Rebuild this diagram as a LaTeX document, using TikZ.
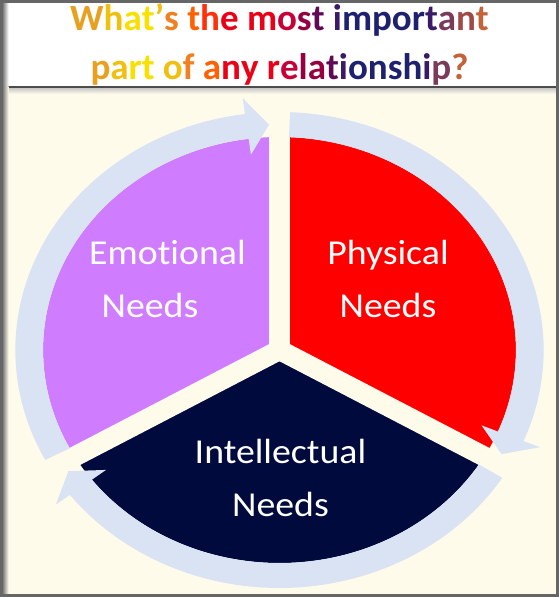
\documentclass[tikz,border=0pt]{standalone}
\usepackage{fontspec}
\setmainfont{Carlito}[Ligatures=NoCommon]
\newfontfamily\segfont{Carlito}[FakeStretch=1.08, Ligatures=NoCommon]
\usetikzlibrary{calc}
\definecolor{colBack}{RGB}{255,251,235}
\definecolor{colEmo}{RGB}{208,124,255}
\definecolor{colPhys}{RGB}{255,0,0}
\definecolor{colIntel}{RGB}{0,10,60}
\definecolor{colRing}{RGB}{218,227,243}
% title gradient stops
\definecolor{tAmber}{RGB}{232,160,32}
\definecolor{tGold}{RGB}{240,192,16}
\definecolor{tYellow}{RGB}{248,224,0}
\definecolor{tOrange}{RGB}{240,128,32}
\definecolor{tRedOr}{RGB}{255,96,0}
\definecolor{tScarlet}{RGB}{255,48,10}
\definecolor{tRed}{RGB}{236,0,24}
\definecolor{tCrimA}{RGB}{200,0,56}
\definecolor{tCrimB}{RGB}{150,0,64}
\definecolor{tPlum}{RGB}{96,10,85}
\definecolor{tIndigo}{RGB}{58,26,104}
\definecolor{tNavy}{RGB}{30,32,112}
\definecolor{tMauve}{RGB}{122,58,90}
\definecolor{tBrown}{RGB}{160,74,72}
\definecolor{tRust}{RGB}{196,98,58}
\newcommand{\gch}[2]{\textcolor{#1}{#2}}
\tikzset{
  % pie pieces and gaps
  piece/.style={fill=#1, draw=none},
  gapLine/.style={draw=colBack, line width=20pt},
  % circular arrows
  ringArr/.style={fill=colRing, draw=none},
  % texts (base = baseline of the last line)
  segLabel/.style={text=white, font=\segfont\fontsize{35}{53}\selectfont,
                   align=center, anchor=base, inner sep=0pt},
  titleText/.style={font=\bfseries\fontsize{37}{49}\selectfont,
                    align=center, anchor=base, inner sep=0pt},
}

\begin{document}
\begin{tikzpicture}[x=1pt, y=1pt]
\useasboundingbox (-279.5,-247) rectangle (279.5,350);

% ═══════════════════════════════════════════════════════════════════
%  BACKGROUND – title band and cream panel
% ═══════════════════════════════════════════════════════════════════
\fill[colBack] (-279.5,-247) rectangle (279.5,263);
\fill[white]   (-279.5,263)  rectangle (279.5,350);
\shade[top color=black!25, bottom color=colBack]
  (-279.5,256) rectangle (279.5,263);
\draw[black!70, line width=1.5pt] (-279.5,263) -- (279.5,263);

% ═══════════════════════════════════════════════════════════════════
%  SEGMENTED CYCLE (stretched sideways)
% ═══════════════════════════════════════════════════════════════════
\begin{scope}[xscale=1.11]
  % pieces
  \fill[piece=colEmo]   (0,0) -- (90:213)  arc[start angle=90,  end angle=210, radius=213] -- cycle;
  \fill[piece=colPhys]  (0,0) -- (-30:213) arc[start angle=-30, end angle=90,  radius=213] -- cycle;
  \fill[piece=colIntel] (0,0) -- (210:213) arc[start angle=210, end angle=330, radius=213] -- cycle;

  % gaps between the pieces
  \draw[gapLine] (0,0) -- (90:245);
  \draw[gapLine] (0,0) -- (210:245);
  \draw[gapLine] (0,0) -- (330:245);

  % arrow 1 – left side, up to the top
  \fill[ringArr] (207.5:238) arc[start angle=207.5, end angle=97.5, radius=238]
    -- (97.5:254) -- (92.4:225.5) -- (97.5:197) -- (97.5:213)
    arc[start angle=97.5, end angle=207.5, radius=213] -- cycle;

  % arrow 2 – top, down the right side
  \fill[ringArr] (87.7:238) arc[start angle=87.7, end angle=-22.5, radius=238]
    -- (-22.5:254) -- (-27.5:225.5) -- (-22.5:197) -- (-22.5:213)
    arc[start angle=-22.5, end angle=87.7, radius=213] -- cycle;

  % arrow 3 – along the bottom, to the lower left
  \fill[ringArr] (-32.5:238) arc[start angle=-32.5, end angle=-142.5, radius=238]
    -- (-142.5:254) -- (-147.5:225.5) -- (-142.5:197) -- (-142.5:213)
    arc[start angle=-142.5, end angle=-32.5, radius=213] -- cycle;
\end{scope}

% ═══════════════════════════════════════════════════════════════════
%  LABELS
% ═══════════════════════════════════════════════════════════════════
\node[segLabel] (emo)   at (-112,32)     {Emotional\\\hspace*{-35pt}Needs};
\node[segLabel] (phys)  at (108.5,32)    {Physical\\Needs};
\node[segLabel] (intel) at (1,-166.7)    {Intellectual\\Needs};

% ═══════════════════════════════════════════════════════════════════
%  TITLE
% ═══════════════════════════════════════════════════════════════════
\node[titleText] (title) at (0,270.7) {%
  \gch{tAmber}{W}\gch{tGold}{h}\gch{tYellow}{a}\gch{tYellow}{t}\gch{tGold}{’}\gch{tOrange}{s}
  \gch{tRedOr}{t}\gch{tScarlet}{h}\gch{tRed}{e}
  \gch{tRed}{m}\gch{tCrimA}{o}\gch{tCrimB}{s}\gch{tPlum}{t}
  \gch{tIndigo}{i}\gch{tNavy}{m}\gch{tNavy}{p}\gch{tNavy}{o}\gch{tNavy}{r}\gch{tIndigo}{t}\gch{tMauve}{a}\gch{tBrown}{n}\gch{tRust}{t}\\
  \gch{tAmber}{p}\gch{tGold}{a}\gch{tYellow}{r}\gch{tYellow}{t}
  \gch{tGold}{o}\gch{tOrange}{f}
  \gch{tRedOr}{a}\gch{tRed}{n}\gch{tRed}{y}
  \gch{tRed}{r}\gch{tCrimA}{e}\gch{tCrimB}{l}\gch{tCrimB}{a}\gch{tPlum}{t}\gch{tIndigo}{i}\gch{tNavy}{o}\gch{tNavy}{n}\gch{tNavy}{s}\gch{tNavy}{h}\gch{tIndigo}{i}\gch{tMauve}{p}\gch{tRust}{?}%
};

% ═══════════════════════════════════════════════════════════════════
%  FRAME
% ═══════════════════════════════════════════════════════════════════
\shade[left color=black!50, right color=white]
  (-276.5,263) rectangle (-271,348.5);
\shade[left color=black!50, right color=colBack]
  (-276.5,-245.5) rectangle (-271,263);
\draw[black!60, line width=3pt] (-278,-245.5) rectangle (278,348.5);

\end{tikzpicture}
\end{document}
